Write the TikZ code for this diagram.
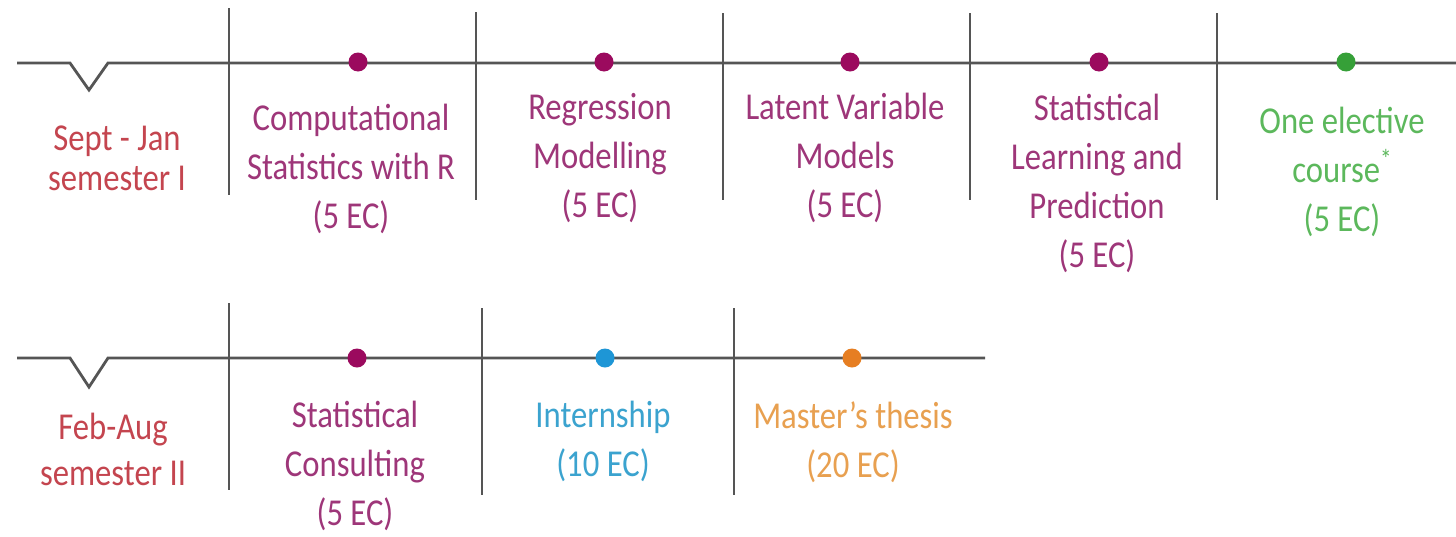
\documentclass[tikz,border=0pt]{standalone}
\usepackage{fontspec}
\setmainfont{Carlito}[FakeStretch=0.86]
\definecolor{lineC}{HTML}{555555}
\definecolor{dotM}{HTML}{9B0A5E}
\definecolor{textM}{HTML}{9E3679}
\definecolor{semC}{HTML}{C4454F}
\definecolor{dotG}{HTML}{36A038}
\definecolor{textG}{HTML}{5CB85C}
\definecolor{dotB}{HTML}{1E96D6}
\definecolor{textB}{HTML}{3BA3CF}
\definecolor{dotO}{HTML}{E67E22}
\definecolor{textO}{HTML}{E8A050}
\begin{document}
\begin{tikzpicture}[x=1pt,y=-1pt,
  tl/.style={line width=2.8pt, draw=lineC},
  tdot/.style={circle, fill=#1, inner sep=0pt, minimum size=19pt},
  lbl/.style={text=#1, font=\fontsize{38}{49}\selectfont, align=center, inner sep=0pt, anchor=north},
  sem/.style={text=semC, font=\fontsize{38}{#1}\selectfont, align=center, inner sep=0pt, anchor=north}]
\useasboundingbox[fill=white] (0,0) rectangle (1456,536);
% ---------- row 1 ----------
\draw[tl] (17,63) -- (70,63) -- (89,90) -- (108,63) -- (1456,63);
\foreach \x/\a/\b in {229/8/195, 476/12/200, 723/13/200, 970/13/200, 1217/13/200}
  \draw[tl] (\x,\a) -- (\x,\b);
\node[tdot=dotM] (d1) at (358,62) {};
\node[tdot=dotM] (d2) at (604,62) {};
\node[tdot=dotM] (d3) at (850,62) {};
\node[tdot=dotM] (d4) at (1099,62) {};
\node[tdot=dotG] (d5) at (1346,62) {};
\node[sem=40] (s1) at (117,126) {Sept - Jan\\semester I};
\node[lbl=textM] (c1) at (351,104) {Computational\\Statistics with R\\(5 EC)};
\node[lbl=textM] (c2) at (600,93) {Regression\\Modelling\\(5 EC)};
\node[lbl=textM] (c3) at (845,93) {Latent Variable\\Models\\(5 EC)};
\node[lbl=textM] (c4) at (1097,94) {Statistical\\Learning and\\Prediction\\(5 EC)};
\node[lbl=textG] (c5) at (1342,107) {One elective\\course\raisebox{0.38em}{\fontsize{27}{27}\selectfont *}\\(5 EC)};
% ---------- row 2 ----------
\draw[tl] (17,358) -- (70,358) -- (89,387) -- (108,358) -- (985,358);
\foreach \x/\a/\b in {229/303/490, 482/308/495, 734/308/495}
  \draw[tl] (\x,\a) -- (\x,\b);
\node[tdot=dotM] (e1) at (357,358) {};
\node[tdot=dotB] (e2) at (605,358) {};
\node[tdot=dotO] (e3) at (852,358) {};
\node[sem=46] (s2) at (113,413) {Feb-Aug\\semester II};
\node[lbl=textM] (f1) at (355,401) {Statistical\\Consulting\\(5 EC)};
\node[lbl=textB] (f2) at (603,401) {Internship\\(10 EC)};
\node[lbl=textO] (f3) at (853,401) {Master's thesis\\(20 EC)};
\end{tikzpicture}
\end{document}
